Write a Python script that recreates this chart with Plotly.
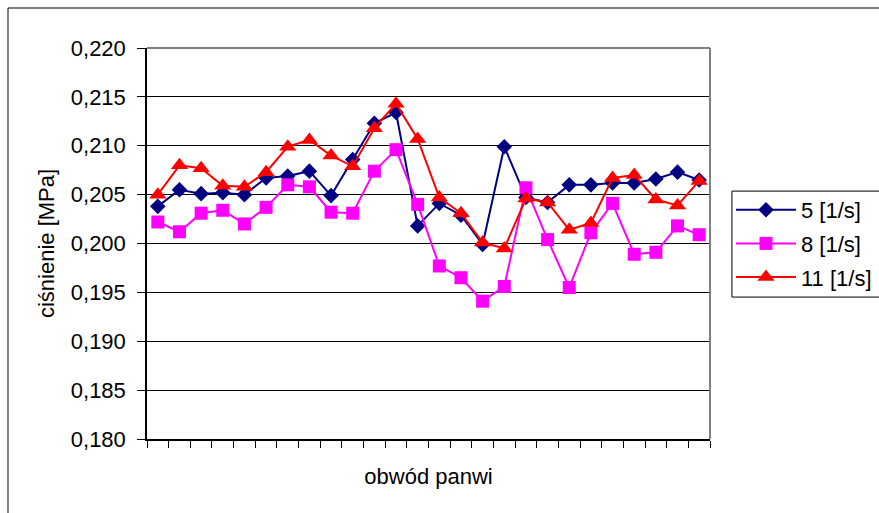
import plotly.graph_objects as go

# measurement points around the bearing circumference
positions = list(range(1, 27))

p_5 = [0.2038, 0.2055, 0.2051, 0.2052, 0.2050, 0.2067, 0.2069, 0.2074, 0.2049, 0.2086,
       0.2123, 0.2134, 0.2018, 0.2041, 0.2029, 0.1999, 0.2099, 0.2047, 0.2042, 0.2060,
       0.2060, 0.2062, 0.2062, 0.2066, 0.2073, 0.2065]
p_8 = [0.2022, 0.2012, 0.2031, 0.2034, 0.2020, 0.2037, 0.2060, 0.2058, 0.2032, 0.2031,
       0.2074, 0.2096, 0.2040, 0.1977, 0.1965, 0.1941, 0.1956, 0.2057, 0.2004, 0.1955,
       0.2011, 0.2041, 0.1989, 0.1991, 0.2018, 0.2009]
p_11 = [0.2050, 0.2080, 0.2077, 0.2059, 0.2058, 0.2073, 0.2099, 0.2106, 0.2090, 0.2079,
        0.2118, 0.2143, 0.2107, 0.2047, 0.2031, 0.2001, 0.1995, 0.2046, 0.2042, 0.2014,
        0.2021, 0.2067, 0.2070, 0.2045, 0.2039, 0.2064]

series_names = ["5 [1/s]", "8 [1/s]", "11 [1/s]"]
y_ticks = [0.180, 0.185, 0.190, 0.195, 0.200, 0.205, 0.210, 0.215, 0.220]

FONT = "Arial, Liberation Sans, sans-serif"
FS = 22
W, H = 879, 513

fig = go.Figure()
styles = [
    dict(color="#000080", symbol="diamond", size=12),
    dict(color="#FF00FF", symbol="square", size=13),
    dict(color="#FF0000", symbol="triangle-up", size=15),
]
for name, vals, st in zip(series_names, [p_5, p_8, p_11], styles):
    fig.add_trace(go.Scatter(
        x=positions, y=vals, name=name, mode="lines+markers",
        legendgroup=name,
        line=dict(color=st["color"], width=2),
        marker=dict(symbol=st["symbol"], size=st["size"], color=st["color"],
                    line=dict(width=0)),
    ))

fig.update_layout(
    width=W, height=H,
    margin=dict(l=147, r=169, t=48, b=74, autoexpand=False),
    paper_bgcolor="white", plot_bgcolor="white",
    separators=", ",
    font=dict(family=FONT, size=FS, color="black"),
    showlegend=True,
    legend=dict(
        xref="container", yref="container",
        x=731 / W, y=1 - 189 / H, xanchor="left", yanchor="top",
        borderwidth=0, bgcolor="rgba(0,0,0,0)",
        font=dict(family=FONT, size=FS, color="black"),
        tracegroupgap=2, itemwidth=60,
    ),
    shapes=[
        # outer chart frame
        dict(type="rect", xref="paper", yref="paper",
             x0=-139 / 563, y0=-0.3, x1=1.4, y1=1 + 40 / 391,
             line=dict(color="black", width=1), layer="below"),
        # legend frame
        dict(type="rect", xref="paper", yref="paper",
             x0=1.039, y0=0.363, x1=1.5, y1=0.634,
             line=dict(color="black", width=1), layer="below"),
        # plot area frame (top and right)
        dict(type="line", xref="paper", yref="paper", x0=0, x1=1, y0=1, y1=1,
             line=dict(color="#808080", width=2)),
        dict(type="line", xref="paper", yref="paper", x0=1, x1=1, y0=0, y1=1,
             line=dict(color="#808080", width=2)),
    ],
)

fig.update_xaxes(
    range=[0.5, 26.5],
    tickvals=[i + 0.5 for i in range(0, 27)],
    showticklabels=False,
    ticks="outside", ticklen=7, tickcolor="black", tickwidth=1,
    showgrid=False, zeroline=False,
    showline=True, linecolor="black", linewidth=1.5,
    title=dict(text="obwód panwi", font=dict(family=FONT, size=FS), standoff=22),
)
fig.update_yaxes(
    range=[0.180, 0.220],
    tickvals=y_ticks, tickformat=".3f",
    ticks="outside", ticklen=8, tickcolor="black", tickwidth=1,
    ticklabelstandoff=7,
    showgrid=True, gridcolor="black", gridwidth=1,
    zeroline=False,
    showline=True, linecolor="black", linewidth=1.5,
    tickfont=dict(family=FONT, size=FS),
    title=dict(text="ciśnienie [MPa]", font=dict(family=FONT, size=FS), standoff=10),
)

fig.write_html("out.html")
